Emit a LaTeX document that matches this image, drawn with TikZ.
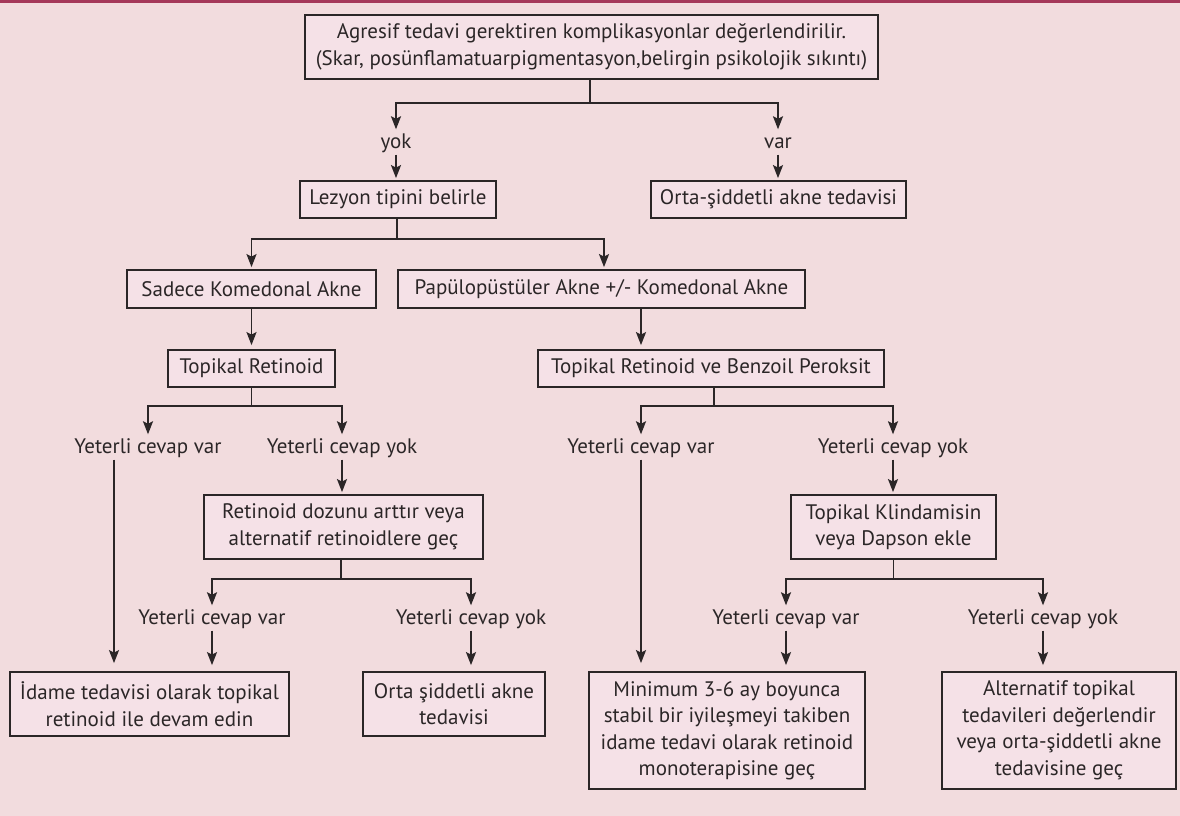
\documentclass[tikz,border=0pt]{standalone}
\usepackage{fontspec}
\setmainfont{PT Sans}
\usepackage{tikz}
\usetikzlibrary{arrows.meta,positioning,calc}

\definecolor{pagebg}{HTML}{F2DCDE}
\definecolor{boxfill}{HTML}{F5E1E7}
\definecolor{inkline}{HTML}{2B2627}
\definecolor{topbar}{HTML}{A5385A}

\begin{document}
\begin{tikzpicture}[
    x=1pt, y=-1pt,
    box/.style={rectangle, draw=inkline, fill=boxfill, line width=1.8pt, inner sep=0pt, align=center, text=inkline, font=\fontsize{21}{26.5}\selectfont},
    lbl/.style={inner sep=1.5pt, text height=15pt, text depth=5pt, text=inkline, font=\fontsize{21}{26.5}\selectfont},
    arrow/.style={-{Stealth[length=13pt,width=10pt,inset=2.5pt]}, line width=1.9pt, draw=inkline, shorten >=2pt},
    link/.style={line width=1.9pt, draw=inkline}
]

% page background and top rule
\fill[pagebg] (0,0) rectangle (1180,816);
\fill[topbar] (0,0) rectangle (1180,3);
\useasboundingbox (0,0) rectangle (1180,816);

% boxes
\node[box, minimum width=573pt, minimum height=64pt] (agresif) at (591.5,47) {Agresif tedavi gerektiren komplikasyonlar değerlendirilir.\\[1pt](Skar, posünflamatuarpigmentasyon,belirgin psikolojik sıkıntı)};
\node[box, minimum width=196pt, minimum height=37pt] (lezyon) at (398,199.5) {Lezyon tipini belirle};
\node[box, minimum width=255pt, minimum height=37pt] (ortatedavi) at (778.5,199.5) {Orta-şiddetli akne tedavisi};
\node[box, minimum width=249pt, minimum height=38pt] (sadece) at (251.5,289) {Sadece Komedonal Akne};
\node[box, minimum width=407pt, minimum height=38pt] (papulo) at (601.5,289) {Papülopüstüler Akne +/- Komedonal Akne};
\node[box, minimum width=167pt, minimum height=37pt] (topret) at (251.5,368.5) {Topikal Retinoid};
\node[box, minimum width=346pt, minimum height=37pt] (retbenz) at (711,368.5) {Topikal Retinoid ve Benzoil Peroksit};
\node[box, minimum width=279pt, minimum height=64pt] (dozu) at (343.5,527) {Retinoid dozunu arttır veya\\alternatif retinoidlere geç};
\node[box, minimum width=205pt, minimum height=64pt] (klinda) at (893.5,527) {Topikal Klindamisin\\veya Dapson ekle};
\node[box, minimum width=279pt, minimum height=64pt] (idame) at (149.5,704) {İdame tedavisi olarak topikal\\retinoid ile devam edin};
\node[box, minimum width=182pt, minimum height=64pt] (ortasid) at (454,704) {Orta şiddetli akne\\tedavisi};
\node[box, minimum width=276pt, minimum height=117pt] (minimum) at (727,730.5) {Minimum 3-6 ay boyunca\\stabil bir iyileşmeyi takiben\\idame tedavi olarak retinoid\\monoterapisine geç};
\node[box, minimum width=234pt, minimum height=117pt] (alternatif) at (1059,730.5) {Alternatif topikal\\tedavileri değerlendir\\veya orta-şiddetli akne\\tedavisine geç};

% branch labels
\node[lbl] (yok) at (396,143) {yok};
\node[lbl] (var) at (778,143) {var};
\node[lbl] (vara) at (148,448) {Yeterli cevap var};
\node[lbl] (yoka) at (342,448) {Yeterli cevap yok};
\node[lbl] (varb) at (641,448) {Yeterli cevap var};
\node[lbl] (yokb) at (893,448) {Yeterli cevap yok};
\node[lbl] (varc) at (212,619) {Yeterli cevap var};
\node[lbl] (yokc) at (471,619) {Yeterli cevap yok};
\node[lbl] (vard) at (786,619) {Yeterli cevap var};
\node[lbl] (yokd) at (1043,619) {Yeterli cevap yok};

% connectors
\draw[arrow] ([xshift=-1.5pt]agresif.south) -- ++(0,22.7) -| (yok.north);
\draw[arrow] ([xshift=-1.5pt]agresif.south) ++(0,22.7) -| (var.north);
\draw[arrow] (yok.south) -- (yok.south |- lezyon.north);
\draw[arrow] (var.south) -- (var.south |- ortatedavi.north);

\draw[arrow] ([xshift=-1pt]lezyon.south) -- ++(0,19.7) -| (sadece.north);
\draw[arrow] ([xshift=-1pt]lezyon.south) ++(0,19.7) -| ([xshift=2.5pt]papulo.north);
\draw[arrow, shorten >=4pt] (sadece.south) -- (topret.north);
\draw[arrow, shorten >=4pt] ([xshift=39.5pt]papulo.south) -- ([xshift=39.5pt]papulo.south |- retbenz.north);

\draw[arrow] (topret.south) -- ++(0,18.5) -| (vara.north);
\draw[arrow] (topret.south) ++(0,18.5) -| (yoka.north);
\draw[arrow] ([xshift=3pt]retbenz.south) -- ++(0,18.5) -| (varb.north);
\draw[arrow] ([xshift=3pt]retbenz.south) ++(0,18.5) -| (yokb.north);

\draw[arrow] (yoka.south) -- (yoka.south |- dozu.north);
\draw[arrow] (yokb.south) -- (yokb.south |- klinda.north);
\draw[arrow, shorten >=8pt] ([xshift=-34pt]vara.south) -- ([xshift=-34pt]vara.south |- idame.north);
\draw[arrow, shorten >=8pt] (varb.south) -- (varb.south |- minimum.north);

\draw[arrow] ([xshift=-2.5pt]dozu.south) -- ++(0,18.7) -| (varc.north);
\draw[arrow] ([xshift=-2.5pt]dozu.south) ++(0,18.7) -| (yokc.north);
\draw[arrow] (klinda.south) -- ++(0,18.7) -| (vard.north);
\draw[arrow] (klinda.south) ++(0,18.7) -| (yokd.north);

\draw[arrow, shorten >=6pt] (varc.south) -- (varc.south |- idame.north);
\draw[arrow, shorten >=6pt] (yokc.south) -- (yokc.south |- ortasid.north);
\draw[arrow, shorten >=6pt] (vard.south) -- (vard.south |- minimum.north);
\draw[arrow, shorten >=6pt] (yokd.south) -- (yokd.south |- alternatif.north);

\end{tikzpicture}
\end{document}
